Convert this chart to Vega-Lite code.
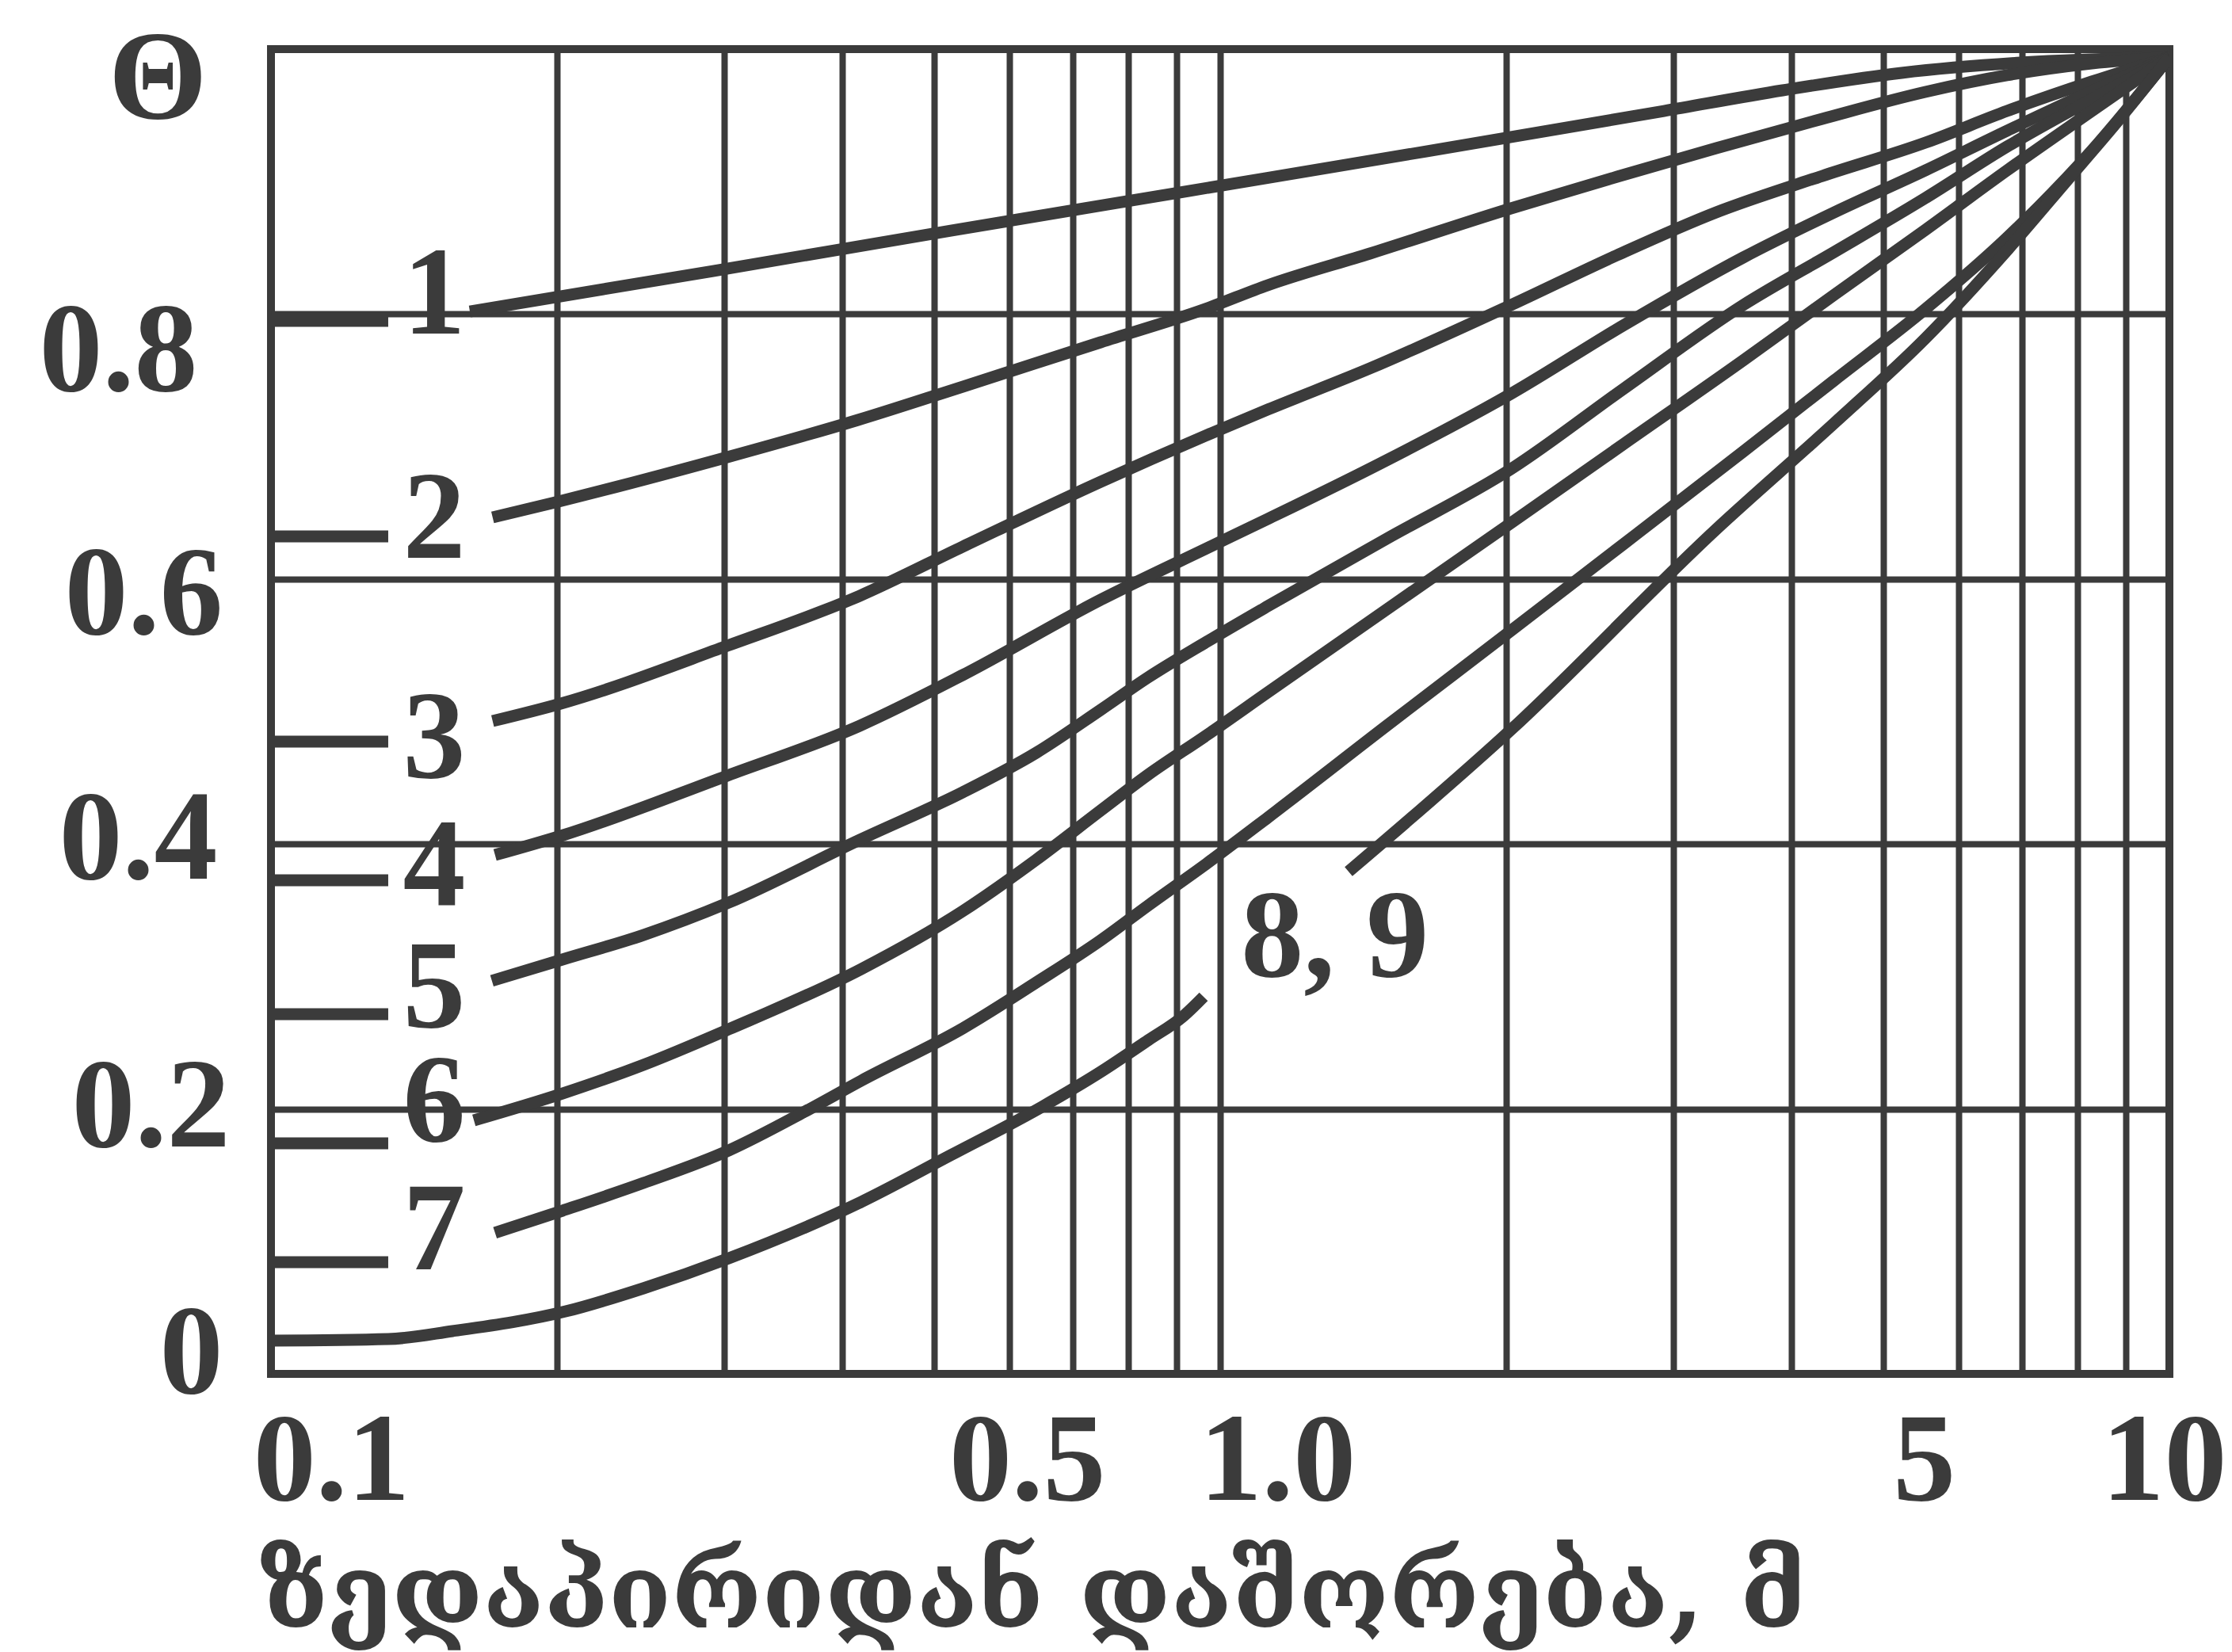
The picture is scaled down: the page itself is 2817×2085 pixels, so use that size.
{
  "$schema": "https://vega.github.io/schema/vega-lite/v6.json",
  "width": 2396,
  "height": 1672,
  "autosize": {"type": "none"},
  "padding": {"left": 342, "top": 62, "right": 79, "bottom": 351},
  "background": "white",
  "config": {"view": {"stroke": "#3b3b3b", "strokeWidth": 10}},
  "datasets": {
    "curves": [
      {"k": "1a", "x": 0.1, "y": 0.7949}, {"k": "1a", "x": 0.1329, "y": 0.7949},
      {"k": "1b", "x": 0.162, "y": 0.802}, {"k": "1b", "x": 0.2922, "y": 0.8325}, {"k": "1b", "x": 0.5202, "y": 0.863}, {"k": "1b", "x": 0.926, "y": 0.8929}, {"k": "1b", "x": 1.648, "y": 0.9228}, {"k": "1b", "x": 2.934, "y": 0.9533}, {"k": "1b", "x": 3.913, "y": 0.9689}, {"k": "1b", "x": 5.223, "y": 0.9821}, {"k": "1b", "x": 6.968, "y": 0.9898}, {"k": "1b", "x": 10, "y": 0.994},
      {"k": "2a", "x": 0.1, "y": 0.6322}, {"k": "2a", "x": 0.1329, "y": 0.6322},
      {"k": "2b", "x": 0.1712, "y": 0.6465}, {"k": "2b", "x": 0.2009, "y": 0.6585}, {"k": "2b", "x": 0.3025, "y": 0.692}, {"k": "2b", "x": 0.4154, "y": 0.7201}, {"k": "2b", "x": 0.5354, "y": 0.7452}, {"k": "2b", "x": 0.7482, "y": 0.7787}, {"k": "2b", "x": 0.9641, "y": 0.8038}, {"k": "2b", "x": 1.1222, "y": 0.8218}, {"k": "2b", "x": 1.4379, "y": 0.8457}, {"k": "2b", "x": 2.0245, "y": 0.8798}, {"k": "2b", "x": 2.6196, "y": 0.9037}, {"k": "2b", "x": 3.3311, "y": 0.9252}, {"k": "2b", "x": 4.309, "y": 0.9474}, {"k": "2b", "x": 5.533, "y": 0.9677}, {"k": "2b", "x": 6.745, "y": 0.9803}, {"k": "2b", "x": 8.284, "y": 0.9892}, {"k": "2b", "x": 10, "y": 0.994},
      {"k": "3a", "x": 0.1, "y": 0.4773}, {"k": "3a", "x": 0.1329, "y": 0.4773},
      {"k": "3b", "x": 0.1712, "y": 0.4928}, {"k": "3b", "x": 0.202, "y": 0.506}, {"k": "3b", "x": 0.3025, "y": 0.5496}, {"k": "3b", "x": 0.417, "y": 0.5873}, {"k": "3b", "x": 0.5354, "y": 0.6244}, {"k": "3b", "x": 0.7482, "y": 0.6734}, {"k": "3b", "x": 0.9641, "y": 0.7081}, {"k": "3b", "x": 1.1222, "y": 0.7279}, {"k": "3b", "x": 1.4379, "y": 0.759}, {"k": "3b", "x": 2.0245, "y": 0.8068}, {"k": "3b", "x": 2.6196, "y": 0.8445}, {"k": "3b", "x": 3.3311, "y": 0.8768}, {"k": "3b", "x": 4.309, "y": 0.9043}, {"k": "3b", "x": 5.533, "y": 0.9294}, {"k": "3b", "x": 6.745, "y": 0.9533}, {"k": "3b", "x": 8.284, "y": 0.9755}, {"k": "3b", "x": 10, "y": 0.994},
      {"k": "4a", "x": 0.1, "y": 0.3726}, {"k": "4a", "x": 0.1329, "y": 0.3726},
      {"k": "4b", "x": 0.1722, "y": 0.3917}, {"k": "4b", "x": 0.202, "y": 0.4061}, {"k": "4b", "x": 0.3025, "y": 0.4516}, {"k": "4b", "x": 0.417, "y": 0.4892}, {"k": "4b", "x": 0.5354, "y": 0.5275}, {"k": "4b", "x": 0.7482, "y": 0.5843}, {"k": "4b", "x": 0.9641, "y": 0.6226}, {"k": "4b", "x": 1.1222, "y": 0.6453}, {"k": "4b", "x": 1.4744, "y": 0.6872}, {"k": "4b", "x": 2.0245, "y": 0.7398}, {"k": "4b", "x": 2.665, "y": 0.7919}, {"k": "4b", "x": 3.556, "y": 0.8427}, {"k": "4b", "x": 4.436, "y": 0.8768}, {"k": "4b", "x": 5.533, "y": 0.9085}, {"k": "4b", "x": 6.745, "y": 0.9384}, {"k": "4b", "x": 8.284, "y": 0.9683}, {"k": "4b", "x": 10, "y": 0.994},
      {"k": "5a", "x": 0.1, "y": 0.2715}, {"k": "5a", "x": 0.1329, "y": 0.2715},
      {"k": "5b", "x": 0.1709, "y": 0.2967}, {"k": "5b", "x": 0.2028, "y": 0.3128}, {"k": "5b", "x": 0.2468, "y": 0.3313}, {"k": "5b", "x": 0.3025, "y": 0.3553}, {"k": "5b", "x": 0.417, "y": 0.4031}, {"k": "5b", "x": 0.5354, "y": 0.439}, {"k": "5b", "x": 0.6402, "y": 0.4689}, {"k": "5b", "x": 0.7482, "y": 0.5012}, {"k": "5b", "x": 0.8394, "y": 0.5257}, {"k": "5b", "x": 0.9677, "y": 0.5526}, {"k": "5b", "x": 1.1222, "y": 0.5795}, {"k": "5b", "x": 1.4973, "y": 0.6304}, {"k": "5b", "x": 2.0245, "y": 0.683}, {"k": "5b", "x": 2.665, "y": 0.744}, {"k": "5b", "x": 3.556, "y": 0.8068}, {"k": "5b", "x": 4.436, "y": 0.8469}, {"k": "5b", "x": 5.533, "y": 0.8876}, {"k": "5b", "x": 6.745, "y": 0.9264}, {"k": "5b", "x": 8.284, "y": 0.9623}, {"k": "5b", "x": 10, "y": 0.994},
      {"k": "6a", "x": 0.1, "y": 0.174}, {"k": "6a", "x": 0.1329, "y": 0.174},
      {"k": "6b", "x": 0.1636, "y": 0.1914}, {"k": "6b", "x": 0.2028, "y": 0.2117}, {"k": "6b", "x": 0.2468, "y": 0.2333}, {"k": "6b", "x": 0.3037, "y": 0.2602}, {"k": "6b", "x": 0.4186, "y": 0.3056}, {"k": "6b", "x": 0.5354, "y": 0.3493}, {"k": "6b", "x": 0.6402, "y": 0.3882}, {"k": "6b", "x": 0.7482, "y": 0.4252}, {"k": "6b", "x": 0.8394, "y": 0.4522}, {"k": "6b", "x": 0.9677, "y": 0.4821}, {"k": "6b", "x": 1.1222, "y": 0.5144}, {"k": "6b", "x": 1.5922, "y": 0.5903}, {"k": "6b", "x": 2.0245, "y": 0.6423}, {"k": "6b", "x": 2.665, "y": 0.7022}, {"k": "6b", "x": 3.556, "y": 0.765}, {"k": "6b", "x": 4.436, "y": 0.8146}, {"k": "6b", "x": 5.533, "y": 0.8636}, {"k": "6b", "x": 6.745, "y": 0.9085}, {"k": "6b", "x": 8.284, "y": 0.9533}, {"k": "6b", "x": 10, "y": 0.994},
      {"k": "7a", "x": 0.1, "y": 0.0843}, {"k": "7a", "x": 0.1329, "y": 0.0843},
      {"k": "7b", "x": 0.1722, "y": 0.1065}, {"k": "7b", "x": 0.2028, "y": 0.1232}, {"k": "7b", "x": 0.2468, "y": 0.1441}, {"k": "7b", "x": 0.3037, "y": 0.1687}, {"k": "7b", "x": 0.3652, "y": 0.198}, {"k": "7b", "x": 0.4186, "y": 0.2213}, {"k": "7b", "x": 0.5354, "y": 0.2608}, {"k": "7b", "x": 0.6402, "y": 0.2955}, {"k": "7b", "x": 0.7482, "y": 0.3272}, {"k": "7b", "x": 0.8394, "y": 0.3535}, {"k": "7b", "x": 0.9677, "y": 0.3852}, {"k": "7b", "x": 1.1222, "y": 0.4199}, {"k": "7b", "x": 1.4973, "y": 0.4892}, {"k": "7b", "x": 2.0245, "y": 0.561}, {"k": "7b", "x": 2.665, "y": 0.6268}, {"k": "7b", "x": 3.556, "y": 0.6962}, {"k": "7b", "x": 4.436, "y": 0.75}, {"k": "7b", "x": 5.533, "y": 0.8038}, {"k": "7b", "x": 6.745, "y": 0.8577}, {"k": "7b", "x": 8.284, "y": 0.9234}, {"k": "7b", "x": 10, "y": 0.994},
      {"k": "8a", "x": 0.1, "y": 0.0251}, {"k": "8a", "x": 0.1329, "y": 0.0263}, {"k": "8a", "x": 0.1553, "y": 0.0323}, {"k": "8a", "x": 0.2044, "y": 0.0472}, {"k": "8a", "x": 0.2468, "y": 0.0646}, {"k": "8a", "x": 0.3037, "y": 0.0873}, {"k": "8a", "x": 0.4186, "y": 0.1298}, {"k": "8a", "x": 0.5202, "y": 0.1651}, {"k": "8a", "x": 0.649, "y": 0.2016}, {"k": "8a", "x": 0.7482, "y": 0.2279}, {"k": "8a", "x": 0.8394, "y": 0.2518}, {"k": "8a", "x": 0.9154, "y": 0.2703}, {"k": "8a", "x": 0.9605, "y": 0.2847},
      {"k": "8b", "x": 1.3653, "y": 0.3792}, {"k": "8b", "x": 2.0245, "y": 0.4862}, {"k": "8b", "x": 3.3311, "y": 0.6376}, {"k": "8b", "x": 4.436, "y": 0.7177}, {"k": "8b", "x": 5.533, "y": 0.7817}, {"k": "8b", "x": 6.745, "y": 0.8481}, {"k": "8b", "x": 7.759, "y": 0.8989}, {"k": "8b", "x": 8.793, "y": 0.9444}, {"k": "8b", "x": 10, "y": 0.994}
    ],
    "labels": [
      {"t": "1", "x": 0.1486, "y": 0.7853},
      {"t": "2", "x": 0.1486, "y": 0.616},
      {"t": "3", "x": 0.1486, "y": 0.4504},
      {"t": "4", "x": 0.1486, "y": 0.3535},
      {"t": "5", "x": 0.1486, "y": 0.262},
      {"t": "6", "x": 0.1486, "y": 0.1758},
      {"t": "7", "x": 0.1486, "y": 0.0789},
      {"t": "8, 9", "x": 1.321, "y": 0.3002}
    ]
  },
  "encoding": {
    "x": {
      "field": "x",
      "type": "quantitative",
      "scale": {"type": "log", "domain": [0.1, 10], "nice": false, "zero": false},
      "axis": {
        "values": [0.1, 0.2, 0.3, 0.4, 0.5, 0.6, 0.7, 0.8, 0.9, 1, 2, 3, 4, 5, 6, 7, 8, 9, 10],
        "labelExpr": "datum.value == 0.1 ? '0.1' : datum.value == 0.5 ? '0.5' : datum.value == 1 ? '1.0' : datum.value == 5 ? '5' : datum.value == 10 ? '10' : ''",
        "grid": true,
        "gridColor": "#3b3b3b",
        "gridWidth": 8,
        "gridOpacity": 1,
        "domain": false,
        "ticks": false,
        "tickSize": 0,
        "labelFont": "Liberation Serif",
        "labelFontWeight": "bold",
        "labelFontSize": 158,
        "labelColor": "#3b3b3b",
        "labelBaseline": "alphabetic",
        "labelAlign": "center",
        "labelPadding": 158,
        "labelOverlap": false,
        "labelFlush": false,
        "labelBound": false,
        "labelLimit": 0,
        "labelOffset": {"condition": [
          {"test": "datum.value == 0.1", "value": 76},
          {"test": "datum.value == 0.5", "value": 117},
          {"test": "datum.value == 1", "value": 72},
          {"test": "datum.value == 5", "value": 51},
          {"test": "datum.value == 10", "value": -7}
        ], "value": 0},
        "title": "ზედაპირიდან დაშორება, მ",
        "titleFont": "DejaVu Serif",
        "titleFontWeight": "bold",
        "titleFontSize": 130,
        "titleColor": "#3b3b3b",
        "titleAnchor": "start",
        "titleAlign": "left",
        "titleBaseline": "alphabetic",
        "titleX": -15,
        "titleY": 319
      }
    },
    "y": {
      "field": "y",
      "type": "quantitative",
      "scale": {"domain": [0, 1], "nice": false, "zero": false},
      "axis": {
        "values": [0, 0.2, 0.4, 0.6, 0.8, 1],
        "labelExpr": "datum.value == 1 ? 'Θ' : datum.value == 0 ? '0' : format(datum.value, '.1f')",
        "grid": true,
        "gridColor": "#3b3b3b",
        "gridWidth": 8,
        "gridOpacity": 1,
        "domain": false,
        "ticks": false,
        "tickSize": 0,
        "labelFont": "Liberation Serif",
        "labelFontWeight": "bold",
        "labelFontSize": 160,
        "labelColor": "#3b3b3b",
        "labelBaseline": "alphabetic",
        "labelAlign": "right",
        "labelPadding": {"condition": [
          {"test": "datum.value == 1", "value": 81},
          {"test": "datum.value == 0.8", "value": 93},
          {"test": "datum.value == 0.6", "value": 61},
          {"test": "datum.value == 0.4", "value": 68},
          {"test": "datum.value == 0.2", "value": 52},
          {"test": "datum.value == 0", "value": 61}
        ], "value": 62},
        "labelOverlap": false,
        "labelFlush": false,
        "labelBound": false,
        "labelLimit": 0,
        "labelOffset": {"condition": [
          {"test": "datum.value == 1", "value": 86},
          {"test": "datum.value == 0.8", "value": 96},
          {"test": "datum.value == 0.6", "value": 69},
          {"test": "datum.value == 0.4", "value": 43},
          {"test": "datum.value == 0.2", "value": 47},
          {"test": "datum.value == 0", "value": 23}
        ], "value": 0},
        "title": null
      }
    }
  },
  "layer": [
    {
      "data": {"name": "curves"},
      "mark": {"type": "line", "interpolate": "monotone", "strokeWidth": 15, "color": "#3b3b3b", "strokeCap": "butt", "clip": true},
      "encoding": {"detail": {"field": "k"}}
    },
    {
      "data": {"name": "labels"},
      "mark": {"type": "text", "font": "Liberation Serif", "fontWeight": "bold", "fontSize": 158, "color": "#3b3b3b", "align": "center", "baseline": "alphabetic"},
      "encoding": {"text": {"field": "t"}}
    }
  ]
}
